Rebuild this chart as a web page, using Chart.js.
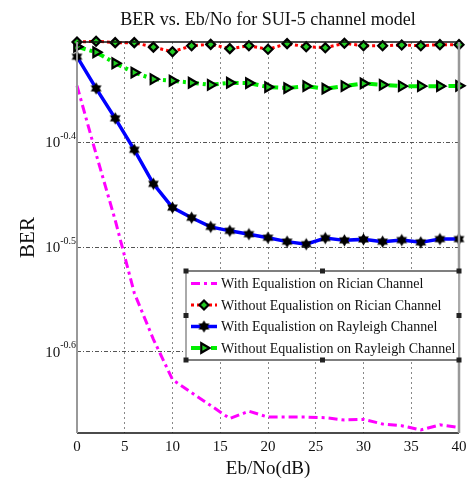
<!DOCTYPE html>
<html>
<head>
<meta charset="utf-8">
<script src="https://cdn.jsdelivr.net/npm/chart.js@4.4.1/dist/chart.umd.min.js"></script>
<style>html,body{margin:0;padding:0;background:#fff}</style>
</head>
<body>
<canvas id="plot" width="476" height="479"></canvas>
<script>
// Eb/No in dB, one sample every 2 dB
const ebNo = [0, 2, 4, 6, 8, 10, 12, 14, 16, 18, 20, 22, 24, 26, 28, 30, 32, 34, 36, 38, 40];
const eqRician = [0.451, 0.388, 0.3355, 0.2858, 0.2581, 0.2362, 0.2295, 0.2231, 0.2168, 0.2203, 0.2175,
  0.2175, 0.2175, 0.2172, 0.2161, 0.2164, 0.2142, 0.2134, 0.2114, 0.2138, 0.2126];
const noEqRician = [0.4966, 0.4974, 0.4959, 0.4959, 0.491, 0.486, 0.4925, 0.494, 0.4894, 0.4925, 0.4887,
  0.4948, 0.4915, 0.4904, 0.4952, 0.4925, 0.4925, 0.4934, 0.4925, 0.4937, 0.4937];
const eqRayleigh = [0.4808, 0.4484, 0.4198, 0.3917, 0.3634, 0.3449, 0.3373, 0.3306, 0.3277, 0.3253, 0.3228,
  0.32, 0.3182, 0.3225, 0.3209, 0.3216, 0.32, 0.3211, 0.3195, 0.3218, 0.3218];
const noEqRayleigh = [0.4915, 0.4855, 0.4739, 0.4643, 0.4576, 0.456, 0.454, 0.4519, 0.454, 0.4537, 0.4497,
  0.4487, 0.4506, 0.4481, 0.4506, 0.4533, 0.4519, 0.4506, 0.4506, 0.4506, 0.4509];
const yTickExp = [-0.6, -0.5, -0.4];
const seriesNames = [
  'With Equalistion on Rician Channel',
  'Without Equalistion on Rician Channel',
  'With Equalistion on Rayleigh Channel',
  'Without Equalistion on Rayleigh Channel'
];

const serif = "'Liberation Serif', 'DejaVu Serif', serif";
const toPoints = arr => ebNo.map((x, i) => ({ x: x, y: arr[i] }));

// filled hexagram marker like matlab 'h'
function hexagram(r) {
  const c = document.createElement('canvas');
  const s = Math.ceil(r * 2 + 4);
  c.width = s; c.height = s;
  const g = c.getContext('2d');
  g.fillStyle = '#000';
  for (let k = 0; k < 2; k++) {
    g.beginPath();
    for (let j = 0; j < 3; j++) {
      const a = -Math.PI / 2 + k * Math.PI + j * 2 * Math.PI / 3;
      const px = s / 2 + r * Math.cos(a), py = s / 2 + r * Math.sin(a);
      j ? g.lineTo(px, py) : g.moveTo(px, py);
    }
    g.closePath();
    g.fill();
  }
  return c;
}
const hexMark = hexagram(6.2);

const frameAndLabels = {
  id: 'frameAndLabels',
  afterDraw(chart) {
    const { ctx, chartArea: a } = chart;
    ctx.save();
    // axes frame
    ctx.lineWidth = 1.5;
    ctx.strokeStyle = '#111';
    ctx.beginPath();
    ctx.moveTo(a.left, a.top); ctx.lineTo(a.right, a.top);
    ctx.moveTo(a.left, a.bottom); ctx.lineTo(a.right, a.bottom);
    ctx.stroke();
    ctx.strokeStyle = '#999';
    ctx.lineWidth = 2;
    ctx.beginPath();
    ctx.moveTo(a.left, a.top); ctx.lineTo(a.left, a.bottom);
    ctx.stroke();
    ctx.lineWidth = 2.5;
    ctx.beginPath();
    ctx.moveTo(a.right, a.top); ctx.lineTo(a.right, a.bottom);
    ctx.stroke();

    // y tick labels 10^x
    const ys = chart.scales.y;
    ctx.fillStyle = '#111';
    ctx.textBaseline = 'middle';
    yTickExp.forEach(e => {
      const py = ys.getPixelForValue(Math.pow(10, e));
      const sup = e.toFixed(1);
      ctx.font = '10px ' + serif;
      ctx.textAlign = 'right';
      const right = a.left - 1;
      ctx.fillText(sup, right, py - 6);
      const w = ctx.measureText(sup).width;
      ctx.font = '15px ' + serif;
      ctx.fillText('10', right - w, py + 1);
    });

    // legend box
    const box = { l: 186, t: 271, r: a.right, b: 360 };
    ctx.fillStyle = '#fff';
    ctx.fillRect(box.l, box.t, box.r - box.l, box.b - box.t);
    ctx.strokeStyle = '#555';
    ctx.lineWidth = 1.5;
    ctx.beginPath();
    ctx.moveTo(box.l, box.t); ctx.lineTo(box.r, box.t);
    ctx.moveTo(box.l, box.b); ctx.lineTo(box.r, box.b);
    ctx.stroke();
    ctx.strokeStyle = '#aaa';
    ctx.lineWidth = 2;
    ctx.beginPath();
    ctx.moveTo(box.l, box.t); ctx.lineTo(box.l, box.b);
    ctx.moveTo(box.r, box.t); ctx.lineTo(box.r, box.b);
    ctx.stroke();
    const mx = (box.l + box.r) / 2, my = (box.t + box.b) / 2;
    ctx.fillStyle = '#222';
    [[box.l, box.t], [mx, box.t], [box.r, box.t], [box.l, my], [box.r, my],
     [box.l, box.b], [mx, box.b], [box.r, box.b]].forEach(p => ctx.fillRect(p[0] - 2.5, p[1] - 2.5, 5, 5));

    const rowY = [283.5, 305, 326.5, 348];
    chart.data.datasets.forEach((ds, i) => {
      const y = rowY[i];
      ctx.save();
      ctx.strokeStyle = ds.borderColor;
      ctx.lineWidth = ds.borderWidth;
      ctx.setLineDash(ds.borderDash || []);
      ctx.beginPath();
      ctx.moveTo(191, y); ctx.lineTo(217, y);
      ctx.stroke();
      ctx.setLineDash([]);
      if (ds.pointRadius > 0) {
        ctx.fillStyle = ds.pointBackgroundColor || '#000';
        ctx.strokeStyle = ds.pointBorderColor || '#000';
        ctx.lineWidth = ds.pointBorderWidth || 0;
        Chart.helpers.drawPoint(ctx, {
          pointStyle: ds.pointStyle, radius: ds.pointRadius,
          rotation: ds.pointRotation || 0, borderWidth: ds.pointBorderWidth || 0
        }, 204, y);
      }
      ctx.restore();
      ctx.fillStyle = '#111';
      ctx.font = '14px ' + serif;
      ctx.textAlign = 'left';
      ctx.textBaseline = 'middle';
      ctx.fillText(ds.label, 221, y + 1);
    });
    ctx.restore();
  }
};

const data = {
  datasets: [
    {
      label: seriesNames[0],
      data: toPoints(eqRician),
      borderColor: '#ff00ff',
      borderWidth: 3,
      borderDash: [9, 4, 3, 4],
      pointRadius: 0
    },
    {
      label: seriesNames[1],
      data: toPoints(noEqRician),
      borderColor: '#ff0000',
      borderWidth: 3,
      borderDash: [3, 3],
      pointStyle: 'rectRot',
      pointRadius: 4.5,
      pointBackgroundColor: '#22cc22',
      pointBorderColor: '#000',
      pointBorderWidth: 2.2
    },
    {
      label: seriesNames[2],
      data: toPoints(eqRayleigh),
      borderColor: '#0000ff',
      borderWidth: 3.5,
      pointStyle: hexMark,
      pointRadius: 6
    },
    {
      label: seriesNames[3],
      data: toPoints(noEqRayleigh),
      borderColor: '#00ee00',
      borderWidth: 4,
      borderDash: [9, 4, 3, 4],
      pointStyle: 'triangle',
      pointRotation: 90,
      pointRadius: 5.5,
      pointBackgroundColor: '#22cc22',
      pointBorderColor: '#000',
      pointBorderWidth: 2.2
    }
  ]
};

const config = {
  type: 'line',
  data: data,
  options: {
    responsive: false,
    animation: false,
    clip: false,
    elements: { line: { tension: 0 } },
    layout: { padding: { top: 0, right: 17, left: 0, bottom: 0 } },
    plugins: {
      legend: { display: false },
      tooltip: { enabled: false },
      title: {
        display: true,
        fullSize: false,
        text: 'BER vs. Eb/No for SUI-5 channel model',
        color: '#111',
        font: { family: serif, size: 18, weight: 'normal', lineHeight: 1.2 },
        padding: { top: 9, bottom: 11.4 }
      }
    },
    scales: {
      x: {
        type: 'linear',
        min: 0,
        max: 40,
        ticks: { stepSize: 5, padding: 5, color: '#111', font: { family: serif, size: 15 } },
        grid: {
          drawTicks: false,
          lineWidth: 1,
          color: ctx => (ctx.tick && (ctx.tick.value === 0 || ctx.tick.value === 40)) ? 'rgba(0,0,0,0)' : '#888'
        },
        border: { display: false, dash: [2, 3] },
        title: {
          display: true,
          text: 'Eb/No(dB)',
          color: '#111',
          font: { family: serif, size: 19, lineHeight: 1 },
          padding: { top: 0, bottom: 0 }
        },
        afterFit: s => { s.height = 46; }
      },
      y: {
        type: 'logarithmic',
        min: 0.2114,
        max: 0.4966,
        afterBuildTicks: s => { s.ticks = yTickExp.map(e => ({ value: Math.pow(10, e) })); },
        ticks: { display: false },
        grid: { drawTicks: false, lineWidth: 1, color: '#555' },
        border: { display: false, dash: [4, 2, 1, 2] },
        title: {
          display: true,
          text: 'BER',
          color: '#111',
          font: { family: serif, size: 21, lineHeight: 1.2 },
          padding: { top: 16, bottom: 0 }
        },
        afterFit: s => { s.width = 77; }
      }
    }
  },
  plugins: [frameAndLabels]
};

const canvas = document.getElementById('plot');
const myChart = new Chart(canvas, config);
</script>
</body>
</html>
